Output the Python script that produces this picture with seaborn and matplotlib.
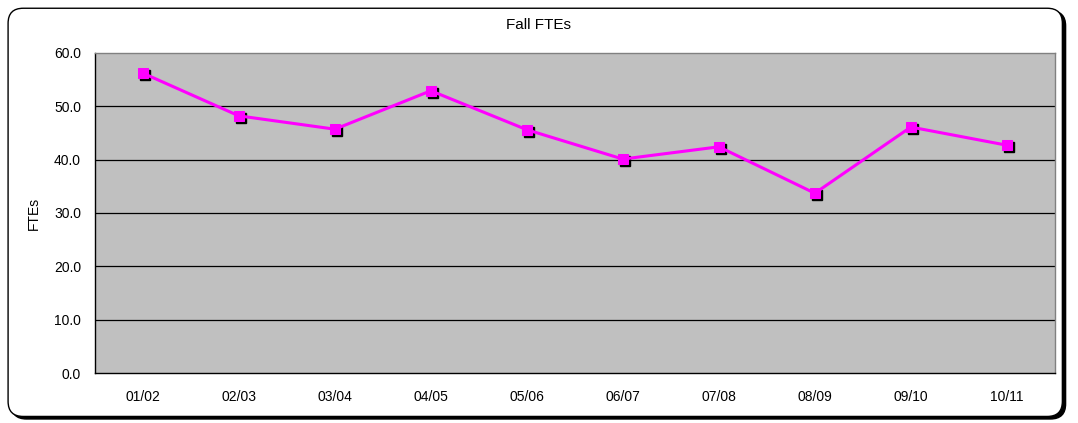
import matplotlib
matplotlib.use("Agg")
import matplotlib.pyplot as plt
import matplotlib.transforms as mtransforms
from matplotlib.patches import FancyBboxPatch
import seaborn as sns
import pandas as pd

years = ["01/02", "02/03", "03/04", "04/05", "05/06",
         "06/07", "07/08", "08/09", "09/10", "10/11"]
ftes = [56.2, 48.2, 45.7, 52.9, 45.6, 40.1, 42.4, 33.7, 46.1, 42.7]
y_ticks = [0, 10, 20, 30, 40, 50, 60]

sns.set_style("white")
plt.rcParams["font.family"] = ["Liberation Sans", "DejaVu Sans"]
plt.rcParams["text.color"] = "black"
plt.rcParams["axes.labelcolor"] = "black"
plt.rcParams["xtick.color"] = "black"
plt.rcParams["ytick.color"] = "black"

df = pd.DataFrame({"year": years, "fte": ftes})

fig = plt.figure(figsize=(10.78, 4.23), dpi=100)

# rounded chart frame with a shadow on the bottom right
shadow = FancyBboxPatch((0.0105, 0.0095), 0.978, 0.965, boxstyle="round,pad=0,rounding_size=0.014",
                        transform=fig.transFigure, facecolor="black", edgecolor="black",
                        mutation_aspect=1078 / 423, zorder=-2)
frame = FancyBboxPatch((0.0075, 0.0155), 0.978, 0.965, boxstyle="round,pad=0,rounding_size=0.014",
                       transform=fig.transFigure, facecolor="white", edgecolor="black", lw=1,
                       mutation_aspect=1078 / 423, zorder=-1)
fig.patches.extend([shadow, frame])

ax = fig.add_axes([0.088, 0.118, 0.8905, 0.757])
ax.set_facecolor("#c0c0c0")

for v in y_ticks[1:-1]:
    ax.axhline(v, color="black", lw=0.9, zorder=1)

# black marker shadows, offset down and right
shift = mtransforms.offset_copy(ax.transData, fig=fig, x=2, y=-2, units="dots")
ax.plot(range(len(years)), ftes, ls="none", marker="s", ms=6.5, color="black",
        transform=shift, zorder=2)

sns.lineplot(data=df, x="year", y="fte", ax=ax, color="#ff00ff", lw=2.2,
             marker="s", markersize=6.5, markeredgecolor="#ff00ff", sort=False, zorder=3)

ax.set_xlim(-0.5, len(years) - 0.5)
ax.set_ylim(0, 60)
ax.set_yticks(y_ticks)
ax.set_yticklabels([f"{v:.1f}" for v in y_ticks])
ax.tick_params(axis="both", length=0, labelsize=10, pad=12)
ax.tick_params(axis="y", pad=10)
ax.set_xlabel("")
ax.set_ylabel("FTEs", fontsize=10, labelpad=9)

for side in ["top", "right"]:
    ax.spines[side].set_color("#808080")
for side in ["left", "bottom"]:
    ax.spines[side].set_color("black")
for s in ax.spines.values():
    s.set_linewidth(1)

fig.text(0.5, 0.94, "Fall FTEs", ha="center", va="center", fontsize=11)

fig.savefig("out.png", dpi=100)
